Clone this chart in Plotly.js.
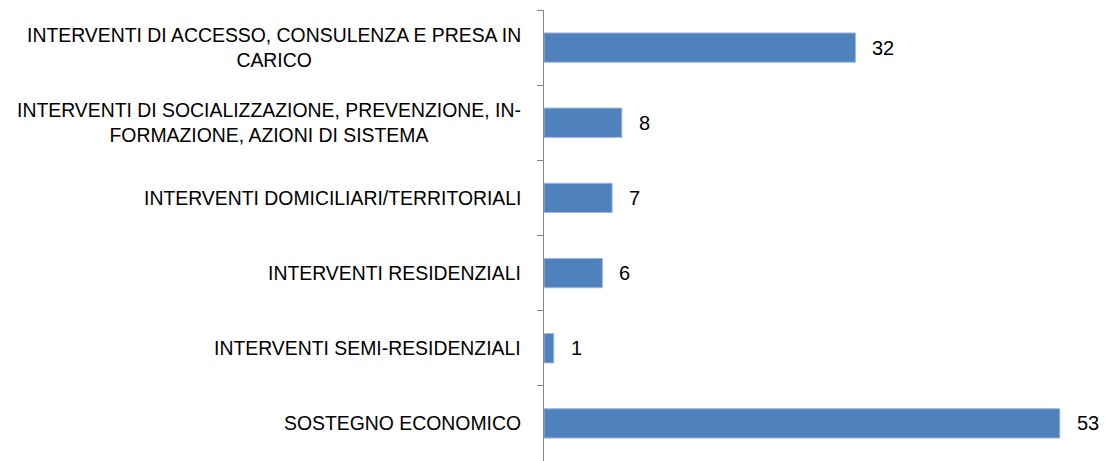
<!DOCTYPE html>
<html>
<head>
<meta charset="utf-8">
<script src="https://cdn.plot.ly/plotly-3.0.1.min.js"></script>
<style>html,body{margin:0;padding:0;background:#fff;}#chart{width:1105px;height:461px;}</style>
</head>
<body>
<div id="chart"></div>
<script>
var categories = [
  "INTERVENTI DI ACCESSO, CONSULENZA E PRESA IN<br>CARICO",
  "INTERVENTI DI SOCIALIZZAZIONE, PREVENZIONE, IN-<br>FORMAZIONE, AZIONI DI SISTEMA",
  "INTERVENTI DOMICILIARI/TERRITORIALI",
  "INTERVENTI RESIDENZIALI",
  "INTERVENTI SEMI-RESIDENZIALI",
  "SOSTEGNO ECONOMICO"
];
var values = [32, 8, 7, 6, 1, 53];

var fontFam = "Liberation Sans, Arial, sans-serif";
var annotations = [];
categories.forEach(function(c, i){
  annotations.push({x: 0, y: c, xref: 'x', yref: 'y', text: c, showarrow: false,
    xanchor: 'right', align: 'center', xshift: -21,
    font: {family: fontFam, size: 19.4, color: '#000'}});
  annotations.push({x: values[i], y: c, xref: 'x', yref: 'y', text: String(values[i]), showarrow: false,
    xanchor: 'left', xshift: 15,
    font: {family: fontFam, size: 20, color: '#000'}});
});

var trace = {
  type: 'bar', orientation: 'h', x: values, y: categories,
  marker: {color: '#4F81BD', line: {color: '#9DB9DD', width: 1}},
  hoverinfo: 'none'
};
var layout = {
  width: 1105, height: 461,
  margin: {l: 544, r: 16, t: 10, b: 0},
  paper_bgcolor: '#fff', plot_bgcolor: '#fff',
  showlegend: false, bargap: 0.61,
  xaxis: {range: [0, 56], visible: false, fixedrange: true},
  yaxis: {type: 'category', autorange: 'reversed', showticklabels: false,
    showline: true, linecolor: '#868686', linewidth: 1,
    ticks: 'outside', tickson: 'boundaries', ticklen: 6, tickcolor: '#868686',
    showgrid: false, zeroline: false},
  annotations: annotations,
  font: {family: fontFam}
};
Plotly.newPlot('chart', [trace], layout, {staticPlot: true});
</script>
</body>
</html>
